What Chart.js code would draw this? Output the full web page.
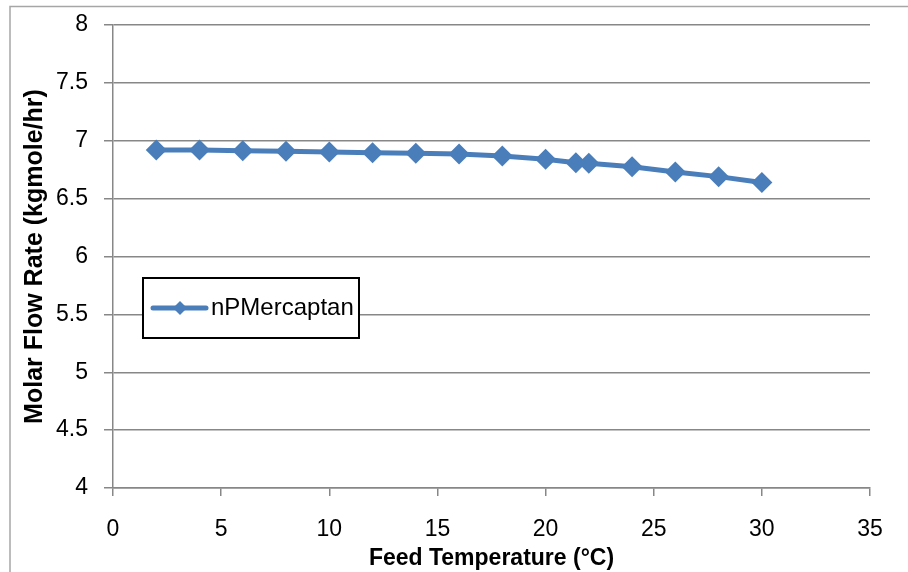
<!DOCTYPE html>
<html>
<head>
<meta charset="utf-8">
<title>Feed Temperature vs Molar Flow Rate</title>
<script src="https://cdn.jsdelivr.net/npm/chart.js@4.4.1/dist/chart.umd.min.js"></script>
<style>
    html, body { margin: 0; padding: 0; background: #fff; }
    #wrap { width: 908px; height: 572px; position: relative; }
</style>
</head>
<body>
<div id="wrap"><canvas id="chart" width="908" height="572"></canvas></div>
<script>
// --- DATA ---
const seriesName = 'nPMercaptan';
const feedTemps = [2, 4, 6, 8, 10, 12, 14, 16, 18, 20, 21.4, 22, 24, 26, 28, 30];
const flowRates = [6.92, 6.92, 6.914, 6.909, 6.903, 6.897, 6.892, 6.886, 6.868, 6.84, 6.81, 6.805, 6.776, 6.73, 6.69, 6.64];
const xTitle = 'Feed Temperature (°C)';
const yTitle = 'Molar Flow Rate (kgmole/hr)';

// --- STYLE ---
const BLUE = '#4a7ebb';
const GRID = '#878787';
const FONT = "'Liberation Sans', Arial, sans-serif";

// outer frame (only left + top edges are visible in the picture)
const framePlugin = {
    id: 'frame',
    beforeDraw(chart) {
        const ctx = chart.ctx;
        ctx.save();
        ctx.strokeStyle = '#a6a6a6';
        ctx.lineWidth = 1.5;
        ctx.beginPath();
        ctx.moveTo(10, 572);
        ctx.lineTo(10, 6.5);
        ctx.lineTo(908, 6.5);
        ctx.stroke();
        ctx.restore();
    }
};

// boxed legend sitting inside the plot area
const boxLegendPlugin = {
    id: 'boxLegend',
    afterDraw(chart) {
        const ctx = chart.ctx;
        const ds = chart.data.datasets[0];
        const box = { x: 143, y: 278, w: 216, h: 60 };
        const cy = box.y + box.h / 2;
        ctx.save();
        ctx.fillStyle = '#fff';
        ctx.fillRect(box.x, box.y, box.w, box.h);
        ctx.strokeStyle = '#000';
        ctx.lineWidth = 2;
        ctx.strokeRect(box.x, box.y, box.w, box.h);

        ctx.strokeStyle = ds.borderColor;
        ctx.lineWidth = 5;
        ctx.lineCap = 'round';
        ctx.beginPath();
        ctx.moveTo(153, cy);
        ctx.lineTo(206, cy);
        ctx.stroke();
        ctx.fillStyle = ds.pointBackgroundColor;
        Chart.helpers.drawPoint(ctx, { pointStyle: 'rectRot', radius: 7, borderWidth: 0 }, 180, cy);

        ctx.fillStyle = '#000';
        ctx.font = '24px ' + FONT;
        ctx.textBaseline = 'middle';
        ctx.textAlign = 'left';
        ctx.fillText(ds.label, 211, cy);
        ctx.restore();
    }
};

const points = feedTemps.map((t, i) => ({ x: t, y: flowRates[i] }));

new Chart(document.getElementById('chart'), {
    type: 'scatter',
    data: {
        datasets: [{
            label: seriesName,
            data: points,
            showLine: true,
            borderColor: BLUE,
            borderWidth: 5,
            pointStyle: 'rectRot',
            pointRadius: 10.5,
            pointHoverRadius: 10.5,
            pointBackgroundColor: BLUE,
            pointBorderColor: BLUE,
            pointBorderWidth: 0,
        }]
    },
    options: {
        responsive: false,
        animation: false,
        events: [],
        layout: { padding: { left: 10, right: 38, top: 25, bottom: 0 } },
        plugins: {
            legend: { display: false },
            tooltip: { enabled: false },
        },
        scales: {
            x: {
                type: 'linear',
                min: 0,
                max: 35,
                afterFit(scale) { scale.height = 84; },
                border: { color: GRID, width: 1.5 },
                grid: { drawOnChartArea: false, drawTicks: true, tickLength: 8, color: GRID, lineWidth: 1.5 },
                ticks: {
                    stepSize: 5,
                    color: '#000',
                    padding: 20,
                    font: { family: FONT, size: 23 },
                    callback: v => String(v),
                },
                title: {
                    display: true,
                    text: xTitle,
                    color: '#000',
                    padding: { top: 0, bottom: 0 },
                    font: { family: FONT, size: 23, weight: 'bold', lineHeight: 1.2 },
                },
            },
            y: {
                type: 'linear',
                min: 4,
                max: 8,
                afterFit(scale) {
                    scale.width = 103;
                    // the outer layout padding already leaves room for the top/bottom labels
                    scale.paddingTop = 0;
                    scale.paddingBottom = 0;
                },
                border: { color: GRID, width: 1.5 },
                grid: { drawTicks: true, tickLength: 9, color: GRID, lineWidth: 1.5 },
                ticks: {
                    stepSize: 0.5,
                    color: '#000',
                    padding: 16,
                    font: { family: FONT, size: 23 },
                    callback: v => String(v),
                },
                title: {
                    display: true,
                    text: yTitle,
                    color: '#000',
                    padding: { top: 10, bottom: 0 },
                    font: { family: FONT, size: 25, weight: 'bold', lineHeight: 1.2 },
                },
            },
        },
    },
    plugins: [framePlugin, boxLegendPlugin],
});
</script>
</body>
</html>
